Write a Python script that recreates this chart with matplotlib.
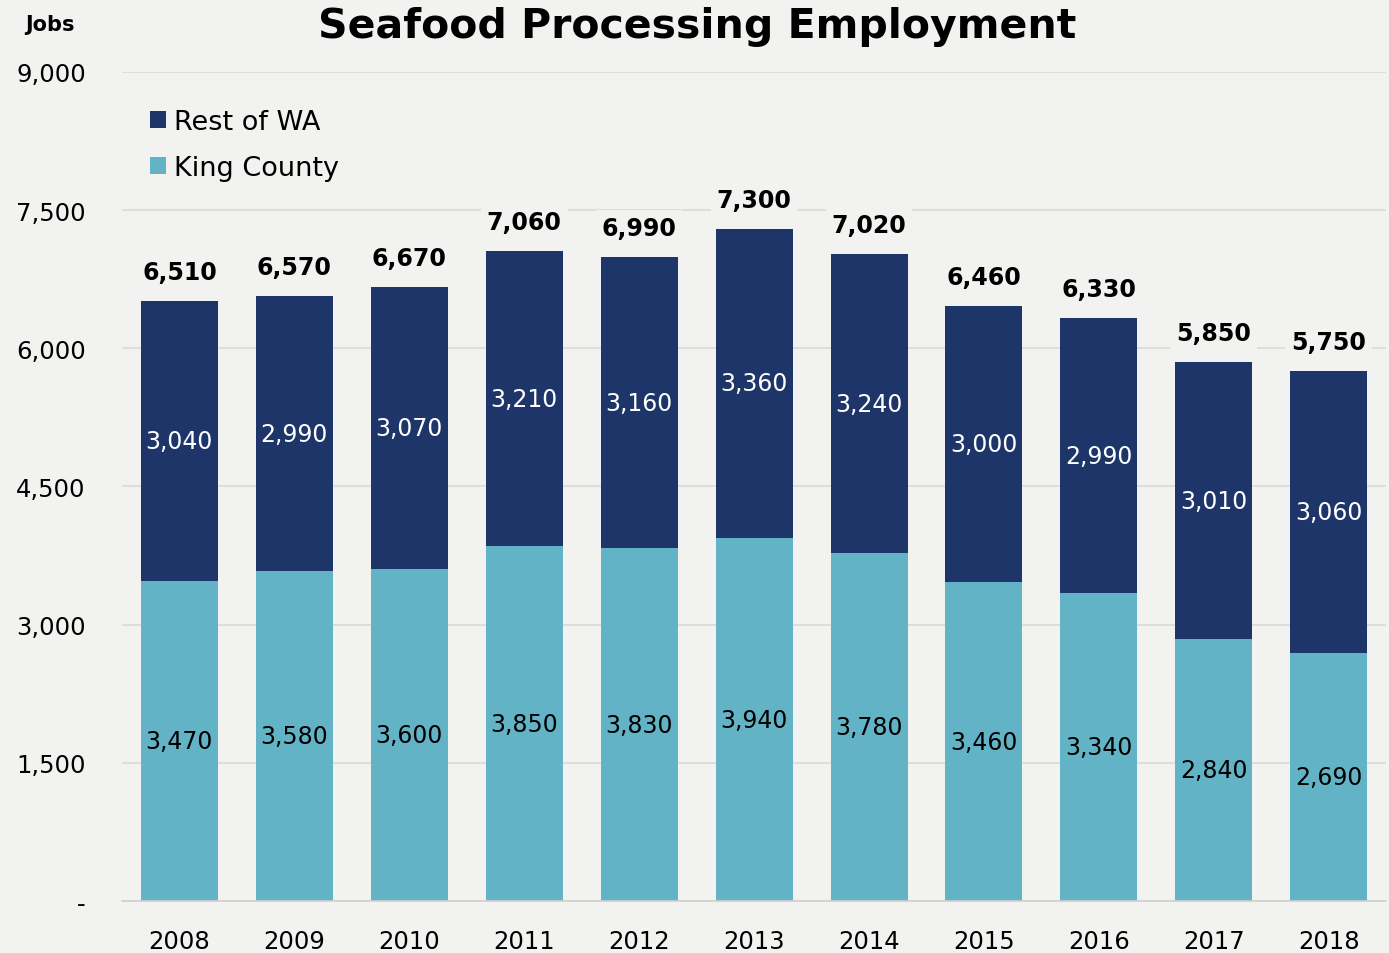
import matplotlib
matplotlib.use("Agg")
import matplotlib.pyplot as plt
import numpy as np

years = ["2008", "2009", "2010", "2011", "2012", "2013", "2014", "2015", "2016", "2017", "2018"]
king_county = [3470, 3580, 3600, 3850, 3830, 3940, 3780, 3460, 3340, 2840, 2690]
rest_of_wa = [3040, 2990, 3070, 3210, 3160, 3360, 3240, 3000, 2990, 3010, 3060]
totals = [6510, 6570, 6670, 7060, 6990, 7300, 7020, 6460, 6330, 5850, 5750]
yticks = [0, 1500, 3000, 4500, 6000, 7500, 9000]
ytick_labels = ["-", "1,500", "3,000", "4,500", "6,000", "7,500", "9,000"]

plt.rcParams['font.family'] = ['DejaVu Sans']
bg = "#f2f2f0"
dark = "#1d3569"
light = "#63b3c7"

fig = plt.figure(figsize=(13.89, 9.54), dpi=100, facecolor=bg)
ax = fig.add_axes([0.0878, 0.0545, 0.9102, 0.869], facecolor=bg)

x = np.arange(len(years))
w = 0.67
b1 = ax.bar(x, king_county, w, color=light, label="King County", zorder=2)
b2 = ax.bar(x, rest_of_wa, w, bottom=king_county, color=dark, label="Rest of WA", zorder=2)

for i in range(len(years)):
    ax.text(x[i], king_county[i] / 2, f"{king_county[i]:,}", ha="center", va="center",
            fontsize=17, color="black", zorder=3)
    ax.text(x[i], king_county[i] + rest_of_wa[i] / 2, f"{rest_of_wa[i]:,}", ha="center", va="center",
            fontsize=17, color="white", zorder=3)
    ax.annotate(f"{totals[i]:,}", (x[i], totals[i]), xytext=(0, 29), textcoords="offset pixels",
                ha="center", va="center", fontsize=17, fontweight="bold", color="black", zorder=3,
                bbox=dict(boxstyle="square,pad=0.25", fc=bg, ec="none"))

ax.set_xlim(-0.5, len(years) - 0.5)
ax.set_ylim(0, 9000)
ax.set_yticks(yticks)
ax.set_yticklabels(ytick_labels, fontsize=17.5)
ax.set_xticks(x)
ax.set_xticklabels(years, fontsize=17.5)
ax.tick_params(axis="x", length=0, pad=20)
ax.tick_params(axis="y", length=0, pad=26)
ax.yaxis.grid(True, color="#d9d9d9", linewidth=1.2, zorder=0)
ax.set_axisbelow(True)
for s in ["top", "right", "left"]:
    ax.spines[s].set_visible(False)
ax.spines["bottom"].set_color("#d0d0d0")
ax.spines["bottom"].set_linewidth(1.2)

handles = [b2, b1]
ax.legend(handles, ["Rest of WA", "King County"], loc="upper left", bbox_to_anchor=(0.003, 0.985),
          frameon=False, fontsize=19.5, handlelength=0.6, handleheight=0.6, handletextpad=0.3,
          labelspacing=0.75)

fig.text(0.502, 0.972, "Seafood Processing Employment", ha="center", va="center",
         fontsize=29.5, fontweight="bold")
fig.text(0.036, 0.974, "Jobs", ha="center", va="center", fontsize=15, fontweight="bold")

fig.savefig("out.png", dpi=100, facecolor=bg)
